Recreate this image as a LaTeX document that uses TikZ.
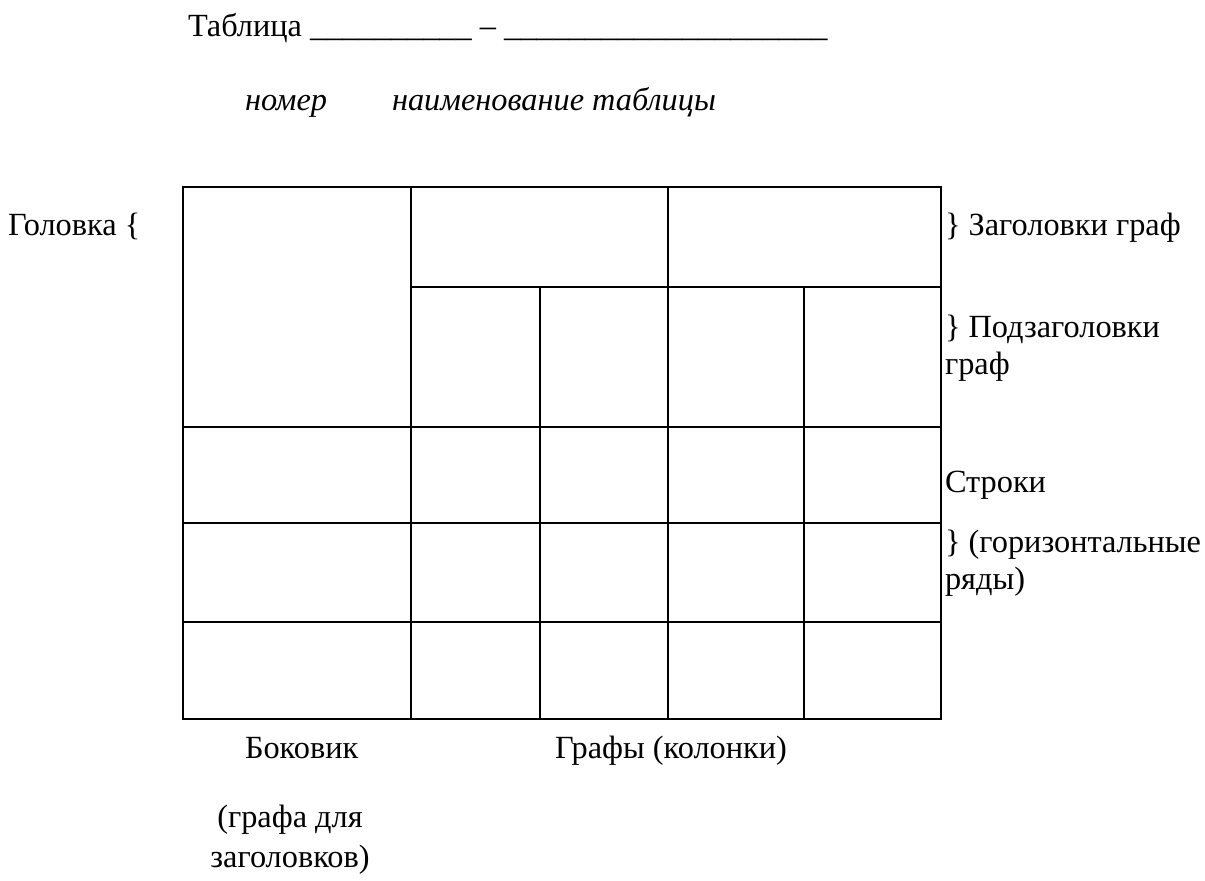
\documentclass[tikz,border=0pt]{standalone}
\usepackage{fontspec}
\setmainfont{LiberationSerif}[Extension=.ttf, UprightFont=*-Regular, ItalicFont=*-Italic, BoldFont=*-Bold]
\usepackage{tikz}

\begin{document}
\begin{tikzpicture}[every node/.style={inner sep=0pt, outer sep=0pt, font=\rmfamily},
                    lbl/.style={anchor=base west, align=left},
                    rule/.style={line width=0.020000cm}]
{\fontsize{9.2}{10.5}\selectfont
\useasboundingbox (0.000000,0.000000) rectangle (12.050000,-8.800000);

% Writing caption line
\node [lbl] (title) at (1.880000,-0.360000) {Таблица \_\_\_\_\_\_\_\_\_\_ – \_\_\_\_\_\_\_\_\_\_\_\_\_\_\_\_\_\_\_\_};
\node [lbl, font=\rmfamily\itshape] (nomer) at (2.450000,-1.100000) {номер};
\node [lbl, font=\rmfamily\itshape] (naim) at (3.920000,-1.100000) {наименование таблицы};

% Drawing outer frame
\draw [rule] (1.830000,-1.870000) rectangle (9.410000,-7.190000);%

% Drawing horizontal lines
\draw [rule] (4.110000,-2.870000) -- (9.410000,-2.870000);%
\draw [rule] (1.830000,-4.270000) -- (9.410000,-4.270000);%
\draw [rule] (1.830000,-5.230000) -- (9.410000,-5.230000);%
\draw [rule] (1.830000,-6.220000) -- (9.410000,-6.220000);%

% Drawing vertical lines
\draw [rule] (4.110000,-1.870000) -- (4.110000,-7.190000);%
\draw [rule] (6.680000,-1.870000) -- (6.680000,-7.190000);%
\draw [rule] (5.400000,-2.870000) -- (5.400000,-7.190000);%
\draw [rule] (8.040000,-2.870000) -- (8.040000,-7.190000);%

% Marking left label
\node [lbl] (golovka) at (0.080000,-2.350000) {Головка \{};

% Marking right labels (base is the last line)
\node [lbl] (zag) at (9.450000,-2.350000) {\} Заголовки граф};
\node [lbl] (podzag) at (9.450000,-3.740000) {\} Подзаголовки\\граф};
\node [lbl] (stroki) at (9.450000,-4.920000) {Строки};
\node [lbl] (gor) at (9.450000,-5.890000) {\} (горизонтальные\\ряды)};

% Marking bottom labels
\node [lbl] (bokovik) at (2.450000,-7.580000) {Боковик};
\node [lbl] (grafy) at (5.550000,-7.580000) {Графы (колонки)};
\node [anchor=base, align=center] (grafa) at (2.900000,-8.670000) {(графа для\\[0.8pt]заголовков)};
}
\end{tikzpicture}
\end{document}
